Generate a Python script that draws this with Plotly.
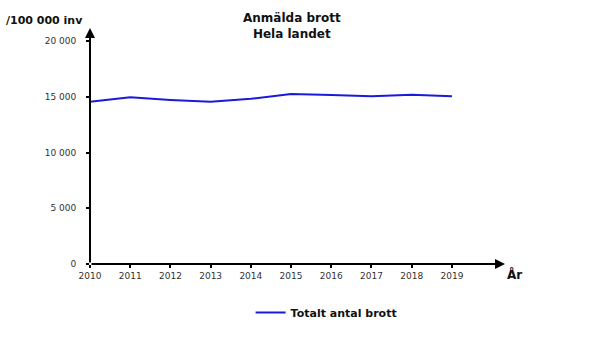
import plotly.graph_objects as go

years = [2010, 2011, 2012, 2013, 2014, 2015, 2016, 2017, 2018, 2019]
crimes = [14560, 14950, 14720, 14550, 14820, 15250, 15160, 15040, 15190, 15040]
y_ticks = [0, 5000, 10000, 15000, 20000]
series_name = "Totalt antal brott"

FONT = "DejaVu Sans"
X_MAX = 2020.32
Y_MAX = 21170

fig = go.Figure()
fig.add_trace(go.Scatter(x=years, y=crimes, mode="lines", name=series_name,
                         line=dict(color="#1a1adc", width=2)))

fig.update_layout(
    width=600, height=353,
    margin=dict(l=90, r=95, t=28, b=89),
    plot_bgcolor="white", paper_bgcolor="white",
    separators=", ",
    font=dict(family=FONT, size=9, color="#333"),
    showlegend=True,
    legend=dict(orientation="h", x=0.387, y=-0.205, xanchor="left", yanchor="middle",
                font=dict(family=FONT, size=11, color="#111", weight="bold")),
    xaxis=dict(range=[2010, X_MAX], tickvals=years, ticks="outside", ticklen=3,
               tickwidth=2, tickcolor="black", showgrid=False, zeroline=False,
               showline=False, tickfont=dict(size=9, color="#333")),
    yaxis=dict(range=[0, Y_MAX], tickvals=y_ticks, ticks="outside", ticklen=3,
               tickwidth=2, tickcolor="black", showgrid=False, zeroline=False,
               showline=False, tickformat=",d", ticklabelstandoff=8,
               tickfont=dict(size=9, color="#333")),
)

# axis arrows
fig.add_annotation(x=X_MAX, y=0, ax=2010, ay=0, xref="x", yref="y", axref="x", ayref="y",
                   showarrow=True, arrowhead=2, arrowwidth=2, arrowsize=1, arrowcolor="black", text="")
fig.add_annotation(x=2010, y=Y_MAX, ax=2010, ay=0, xref="x", yref="y", axref="x", ayref="y",
                   showarrow=True, arrowhead=2, arrowwidth=2, arrowsize=1, arrowcolor="black", text="")

# titles
fig.add_annotation(x=0.487, y=1.08, xref="paper", yref="paper", yanchor="top",
                   text="Anmälda brott<br>Hela landet", showarrow=False,
                   font=dict(family=FONT, size=12, color="#111", weight="bold"))
fig.add_annotation(x=-0.012, y=1.032, xref="paper", yref="paper", xanchor="right", yanchor="middle",
                   text="/100 000 inv", showarrow=False,
                   font=dict(family=FONT, size=11, color="#111", weight="bold"))
fig.add_annotation(x=1.0, y=0, xref="paper", yref="paper", xanchor="left", yanchor="top",
                   text="År", showarrow=False, yshift=-1,
                   font=dict(family=FONT, size=12, color="#111", weight="bold"))

fig.write_html("out.html")
